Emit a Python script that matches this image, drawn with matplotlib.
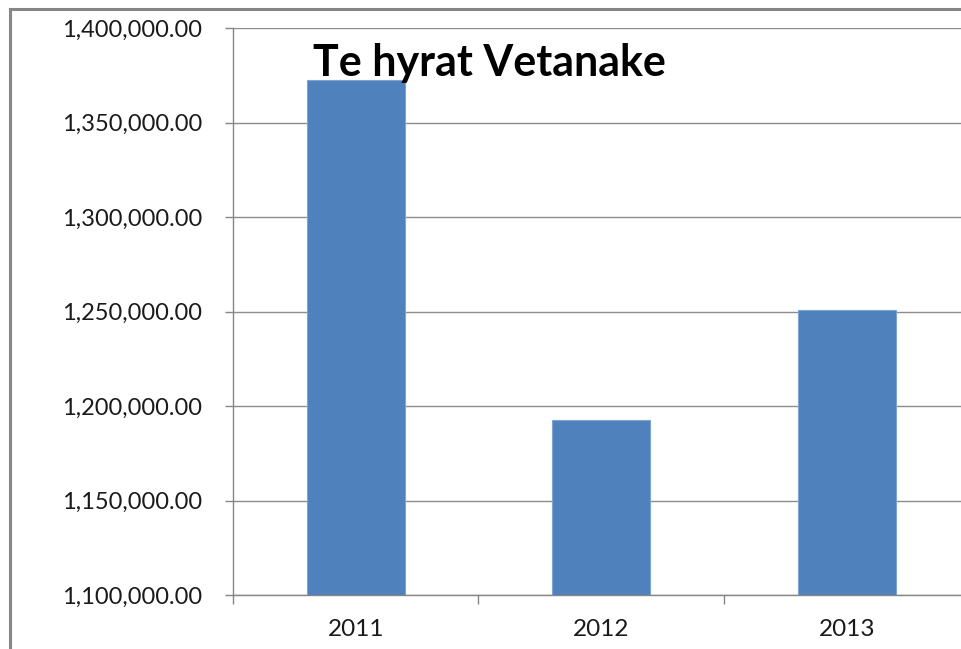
import numpy as np
import matplotlib.pyplot as plt
from matplotlib.lines import Line2D
from matplotlib.ticker import FuncFormatter

years = ['2011', '2012', '2013']
values = [1372500, 1192800, 1250800]
title = 'Te hyrat Vetanake'

plt.rcParams['font.family'] = ['Lato', 'DejaVu Sans']

fig = plt.figure(figsize=(9.62, 6.49), dpi=100)
ax = fig.add_axes([233 / 962, 1 - 595 / 649, (969.5 - 233) / 962, (595 - 28) / 649])

x = np.arange(len(years))
ax.bar(x, values, width=0.4, color='#4f81bd', edgecolor='#7fa4d4', linewidth=0.8, zorder=3)

ax.set_xlim(-0.5, 2.5)
ax.set_ylim(1100000, 1400000)
ax.set_yticks(np.arange(1100000, 1400001, 50000))
ax.yaxis.set_major_formatter(FuncFormatter(lambda v, p: '{:,.2f}'.format(v)))
ax.set_xticks(x)
ax.set_xticklabels(years)
ax.set_xticks([-0.5, 0.5, 1.5, 2.5], minor=True)

ax.tick_params(axis='x', which='major', length=0, pad=17, labelsize=17.5, labelcolor='#1a1a1a')
ax.tick_params(axis='x', which='minor', length=6.5, width=1, color='#868686')
ax.tick_params(axis='y', length=6, width=1, color='#868686', pad=16, labelsize=17, labelcolor='#1a1a1a')

ax.grid(axis='y', color='#8c8c8c', linewidth=1, zorder=0)
for s in ['top', 'right']:
    ax.spines[s].set_visible(False)
for s in ['left', 'bottom']:
    ax.spines[s].set_color('#868686')
    ax.spines[s].set_linewidth(1)

fig.text(489.5 / 962, 1 - 76 / 649, title, ha='center', va='baseline',
         fontsize=31, fontweight='bold', color='black')

# outer chart frame (cropped at the right and bottom)
fig.add_artist(Line2D([10 / 962, 10 / 962], [-0.01, 1 - 9 / 649], transform=fig.transFigure,
                      color='#868686', linewidth=2.2))
fig.add_artist(Line2D([10 / 962, 1.01], [1 - 9 / 649, 1 - 9 / 649], transform=fig.transFigure,
                      color='#868686', linewidth=2.2))

fig.savefig('out.png', dpi=100)
